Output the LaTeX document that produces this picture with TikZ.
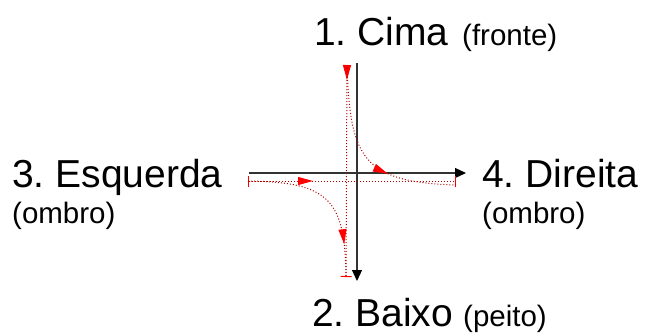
\documentclass[tikz,border=0pt]{standalone}
\usepackage{fontspec}
\setmainfont{Liberation Sans}
\usetikzlibrary{arrows.meta,decorations.markings}
\frenchspacing

\begin{document}
\begin{tikzpicture}[x=1pt, y=-1pt, line join=round,
    dirtxt/.style={anchor=base west, inner sep=0pt, font=\fontsize{39}{42}\selectfont},
    subtxt/.style={anchor=base west, inner sep=0pt, font=\fontsize{29.5}{32}\selectfont},
    axis/.style={black!80, line width=1.2pt, -{Triangle[length=11pt,width=10pt,color=black]}},
    move/.style={red!70!black, line width=1pt, dash pattern=on 1pt off 2pt},
    ends/.style={{Bar[width=11pt,color=red]}-{Bar[width=11pt,color=red]}},
    redtip/.style={postaction={decorate, decoration={markings,
      mark=at position #1 with {\arrow{Triangle[length=15pt,width=8pt,color=red]}}}}}]
  \useasboundingbox (0,0) rectangle (645,333);
  % direction labels
  \node[dirtxt] (cima) at (314,45) {1. Cima};
  \node[subtxt] (fronte) at (462,45) {(fronte)};
  \node[dirtxt] (baixo) at (312,326) {2. Baixo};
  \node[subtxt] (peito) at (463,326) {(peito)};
  \node[dirtxt] (esq) at (12,187) {3. Esquerda};
  \node[subtxt] (ombroL) at (12,223) {(ombro)};
  \node[dirtxt] (dir) at (482,187) {4. Direita};
  \node[subtxt] (ombroR) at (482,223) {(ombro)};
  % axes
  \coordinate (ytop) at (357,63);
  \coordinate (ybot) at (357,281);
  \coordinate (xleft) at (249,173);
  \coordinate (xright) at (466,173);
  \draw[axis] (ytop) -- (ybot);
  \draw[axis] (xleft) -- (xright);
  % movement paths
  \coordinate (vtop) at (347,65);
  \coordinate (vbot) at (346,277);
  \coordinate (hleft) at (248,181);
  \coordinate (hright) at (456,181);
  \coordinate (aend) at (456,185);
  \draw[move, -{Bar[width=11pt,color=red]}, redtip=15pt] (vtop) -- (vbot);
  \draw[move, ends, redtip=65pt] (hleft) -- (hright);
  % curved paths
  \draw[move, redtip=0.64] (vtop) .. controls (350,158) and (362,182) .. (aend);
  \draw[move, redtip=0.8] (hleft) .. controls (330,182) and (345,200) .. (vbot);
\end{tikzpicture}
\end{document}
